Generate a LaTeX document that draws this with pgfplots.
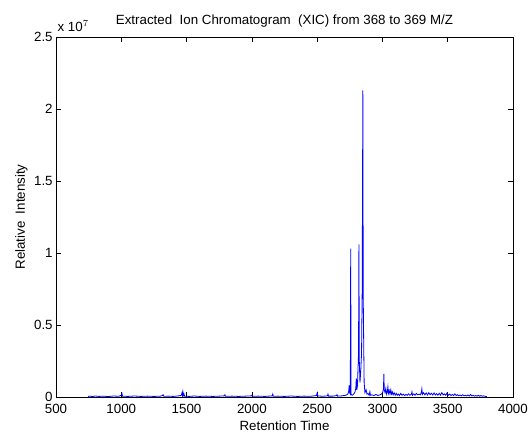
\documentclass[border=0pt]{standalone}
\usepackage{pgfplots}
\pgfplotsset{compat=1.18}
\usepackage{fontspec}
\setmainfont{Liberation Sans}
\pgfplotstableread{
x y
745 0.004
760 0.006
780 0.003
800 0.007
830 0.004
860 0.006
900 0.003
940 0.007
980 0.005
1000 0.012
1005 0.025
1010 0.006
1050 0.004
1100 0.007
1150 0.004
1200 0.006
1250 0.004
1300 0.006
1315 0.010
1320 0.016
1325 0.005
1360 0.006
1400 0.004
1440 0.008
1460 0.012
1465 0.030
1469 0.010
1472 0.036
1476 0.012
1480 0.022
1485 0.006
1520 0.004
1560 0.007
1600 0.004
1650 0.006
1700 0.004
1750 0.006
1790 0.008
1794 0.016
1798 0.005
1850 0.006
1900 0.004
1950 0.006
1998 0.008
2002 0.014
2006 0.005
2050 0.006
2100 0.004
2156 0.008
2160 0.020
2164 0.005
2200 0.006
2250 0.004
2300 0.007
2350 0.004
2400 0.006
2450 0.005
2495 0.010
2500 0.028
2504 0.008
2540 0.005
2579 0.008
2583 0.020
2587 0.006
2620 0.006
2648 0.010
2652 0.016
2656 0.006
2690 0.008
2720 0.012
2735 0.020
2742 0.040
2745 0.080
2749 0.030
2754 0.020
2757 1.030
2760 0.020
2768 0.012
2780 0.020
2790 0.035
2796 0.060
2800 0.130
2804 0.050
2809 0.080
2813 0.200
2817 0.300
2820 1.060
2823 0.250
2828 0.100
2834 0.180
2840 0.300
2845 0.740
2850 2.130
2853 0.700
2856 0.420
2860 0.100
2866 0.030
2875 0.050
2882 0.020
2890 0.025
2898 0.012
2904 0.036
2908 0.012
2920 0.015
2935 0.010
2950 0.018
2965 0.010
2980 0.015
2992 0.020
3002 0.030
3008 0.060
3011 0.160
3014 0.050
3020 0.030
3026 0.060
3032 0.020
3038 0.040
3042 0.070
3046 0.025
3052 0.045
3058 0.020
3064 0.050
3070 0.020
3076 0.035
3082 0.015
3090 0.030
3098 0.012
3106 0.025
3114 0.012
3122 0.020
3130 0.010
3140 0.025
3150 0.012
3160 0.020
3170 0.010
3180 0.018
3190 0.012
3200 0.022
3210 0.012
3222 0.020
3226 0.036
3230 0.012
3240 0.022
3250 0.012
3260 0.025
3270 0.015
3280 0.020
3290 0.015
3298 0.030
3302 0.056
3306 0.018
3315 0.030
3325 0.015
3335 0.028
3345 0.014
3355 0.030
3365 0.016
3375 0.026
3385 0.014
3395 0.028
3405 0.014
3415 0.024
3425 0.012
3435 0.026
3445 0.013
3455 0.030
3465 0.014
3475 0.022
3485 0.012
3495 0.028
3505 0.012
3515 0.020
3525 0.010
3535 0.018
3545 0.010
3555 0.022
3565 0.010
3575 0.016
3585 0.009
3595 0.014
3605 0.008
3615 0.016
3625 0.008
3635 0.012
3645 0.007
3655 0.014
3665 0.007
3675 0.018
3685 0.007
3695 0.012
3705 0.006
3715 0.010
3725 0.006
3735 0.012
3745 0.005
3755 0.010
3765 0.005
3775 0.008
3790 0.004
3800 0.003
}\xicdata
\begin{document}
\begin{tikzpicture}[x=0.75pt,y=0.75pt]
\begin{axis}[
  at={(0,0)}, anchor=south west,
  scale only axis,
  width=342.75pt, height=270pt,
  xmin=500, xmax=4000, ymin=0, ymax=2.5,
  xtick={500,1000,...,4000},
  ytick={0,0.5,1,1.5,2,2.5},
  yticklabels={0,0.5,1,1.5,2,2.5},
  scaled ticks=false,
  /pgf/number format/assume math mode=true,
  /pgf/number format/1000 sep={},
  tick align=inside,
  major tick length=3.75pt,
  tick style={black, line width=0.5pt},
  axis line style={black, line width=0.5pt},
  ticklabel style={font=\fontsize{10}{12}\selectfont},
  xticklabel style={yshift=-1.5pt},
  yticklabel style={xshift=1pt},
  label style={font=\fontsize{10}{12}\selectfont},
  xlabel={Retention Time},
  ylabel={Relative\ \ Intensity},
  xlabel style={yshift=1pt},
  ylabel style={yshift=-2pt},
  title={Extracted\ \ Ion Chromatogram\ \ (XIC) from 368 to 369 M/Z},
  title style={font=\fontsize{10}{12}\selectfont, yshift=-2pt},
  clip mode=individual,
]
\addplot[color=blue, line width=0.6pt] table {\xicdata};
\node[anchor=south west, font=\fontsize{10}{12}\selectfont, inner sep=0pt] at (rel axis cs:0,1) [xshift=1pt, yshift=4pt] {x 10$^{7}$};
\end{axis}
\pgfresetboundingbox
\path[use as bounding box] (-56,-38) rectangle (473,397);
\end{tikzpicture}
\end{document}
